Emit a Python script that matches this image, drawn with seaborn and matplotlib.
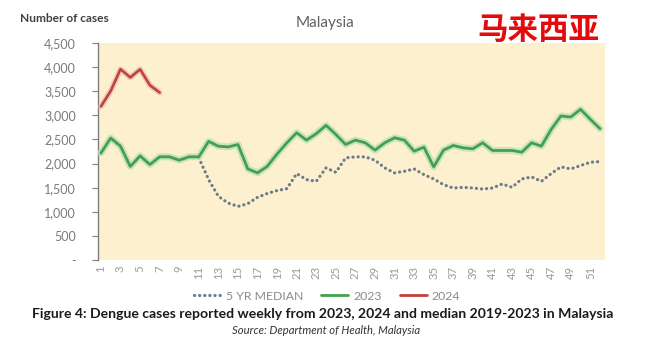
import numpy as np
import pandas as pd
import matplotlib
matplotlib.use("Agg")
import matplotlib.pyplot as plt
import matplotlib.patheffects as pe
from matplotlib.lines import Line2D
import seaborn as sns

# Weekly dengue cases, Malaysia
weeks = list(range(1, 53))
cases_2023 = [2220, 2530, 2360, 1940, 2160, 1980, 2140, 2140, 2070, 2140,
              2140, 2460, 2360, 2345, 2395, 1890, 1806, 1944, 2200, 2431,
              2639, 2486, 2620, 2792, 2604, 2396, 2486, 2431, 2278, 2431,
              2535, 2486, 2257, 2340, 1931, 2278, 2375, 2326, 2306, 2431,
              2271, 2271, 2271, 2236, 2431, 2361, 2708, 2986, 2965, 3125,
              2917, 2722]
cases_2024 = [3185, 3507, 3958, 3785, 3955, 3625, 3472]
median_5yr = [2210, 2520, 2350, 1935, 2150, 1975, 2135, 2135, 2065, 2135,
              2120, 1667, 1320, 1181, 1111, 1167, 1300, 1380, 1440, 1480,
              1792, 1667, 1632, 1910, 1819, 2118, 2139, 2139, 2069, 1910,
              1806, 1840, 1889, 1770, 1681, 1562, 1493, 1507, 1493, 1472,
              1493, 1576, 1507, 1681, 1722, 1632, 1792, 1931, 1889, 1958,
              2028, 2040]
y_ticks = [0, 500, 1000, 1500, 2000, 2500, 3000, 3500, 4000, 4500]
x_ticks = list(range(1, 52, 2))

df = pd.DataFrame({"week": weeks, "2023": cases_2023, "median": median_5yr})
df24 = pd.DataFrame({"week": weeks[:len(cases_2024)], "2024": cases_2024})

sns.set_theme(style="white")
plt.rcParams["font.family"] = ["Lato", "DejaVu Sans"]

fig = plt.figure(figsize=(6.49, 3.42), dpi=100)
ax = fig.add_axes([98 / 649, 82 / 342, 507 / 649, 217 / 342])
ax.set_facecolor("#fdf0cf")

median_color = "#6b7c8a"
green = "#43a04e"
red = "#c2413a"
dot_style = (0, (0.05, 1.55))

sns.lineplot(data=df, x="week", y="median", ax=ax, color=median_color,
             linewidth=2.3, linestyle=dot_style,
             dash_capstyle="round", zorder=2)
sns.lineplot(data=df, x="week", y="2023", ax=ax, color=green, linewidth=2.0,
             zorder=3,
             path_effects=[pe.Stroke(linewidth=5.0, foreground="#bfe0b8", alpha=0.8),
                           pe.Normal()])
sns.lineplot(data=df24, x="week", y="2024", ax=ax, color=red, linewidth=1.9,
             zorder=3,
             path_effects=[pe.Stroke(linewidth=4.2, foreground="#ebbcb3", alpha=0.7),
                           pe.Normal()])

ax.set_xlim(0.7, 52.5)
ax.set_ylim(0, 4500)
ax.set_yticks(y_ticks)
ax.set_yticklabels(["-" if v == 0 else f"{v:,}" for v in y_ticks],
                   color="#7a7a7a", fontsize=9)
ax.set_xticks(x_ticks)
ax.set_xticklabels([str(w) for w in x_ticks], rotation=90, color="#9a9a9a",
                   fontsize=8.2)
ax.tick_params(axis="y", which="major", direction="out", length=4, width=0.8,
               color="#7f7f7f", left=True, pad=12)
ax.tick_params(axis="x", length=0, pad=4)
ax.set_xlabel("")
ax.set_ylabel("")
for side in ["top", "right", "bottom"]:
    ax.spines[side].set_visible(False)
ax.spines["left"].set_color("#7f7f7f")
ax.spines["left"].set_linewidth(1.0)
ax.grid(False)

# Headings
fig.text(20 / 649, 1 - 19 / 342, "Number of cases", fontsize=8.6,
         fontweight="bold", color="#404040", va="center", ha="left")
fig.text(325 / 649, 1 - 23 / 342, "Malaysia", fontsize=11, color="#606060",
         va="center", ha="center")
fig.text(538 / 649, 1 - 30 / 342, "马来西亚", fontsize=22, fontweight="heavy",
         color="#e30b0b", va="center", ha="center",
         family=["Noto Sans CJK SC", "DejaVu Sans"])

# Legend
handles = [
    Line2D([], [], color=median_color, linewidth=2.3, linestyle=dot_style,
           dash_capstyle="round"),
    Line2D([], [], color=green, linewidth=2.0),
    Line2D([], [], color=red, linewidth=2.0),
]
fig.legend(handles, ["5 YR MEDIAN", "2023", "2024"], loc="center",
           bbox_to_anchor=(327 / 649, 1 - 296 / 342), ncol=3, frameon=False,
           fontsize=8.8, labelcolor="#8a8a8a", handlelength=2.2,
           handletextpad=0.4, columnspacing=1.5)

# Caption
fig.text(323 / 649, 1 - 314 / 342,
         "Figure 4: Dengue cases reported weekly from 2023, 2024 and median 2019-2023 in Malaysia",
         fontsize=10.1, fontweight="bold", color="#1a1a1a", ha="center", va="center")
fig.text(326 / 649, 1 - 330 / 342, "Source: Department of Health, Malaysia",
         fontsize=8.1, style="italic", color="#333333", ha="center", va="center")

fig.savefig("out.png", dpi=100, facecolor="white")
